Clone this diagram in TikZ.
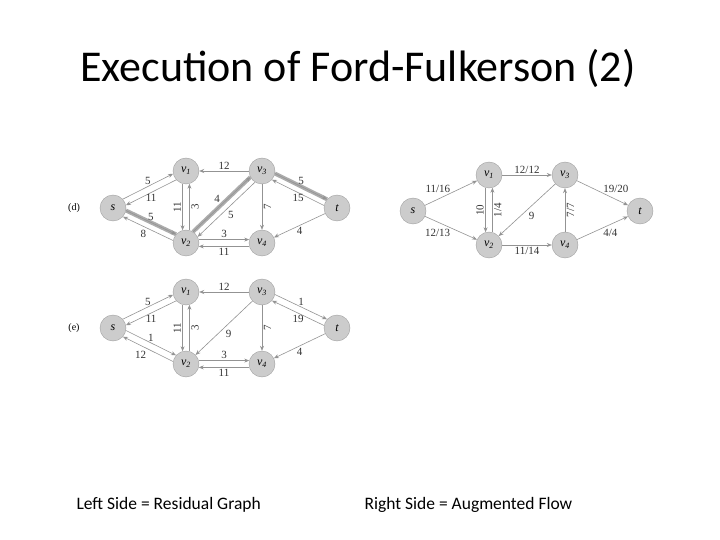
\documentclass[tikz,border=0pt]{standalone}
\usepackage{fontspec}
\setmainfont{Carlito}
\newfontfamily\gfont{Liberation Serif}
\usetikzlibrary{arrows.meta}

\begin{document}
\begin{tikzpicture}[
    x=1pt,y=-1pt,
    vtx/.style = {circle, draw=gray!75, fill=gray!40, minimum size=26pt,
                  inner sep=0pt, font=\gfont\fontsize{12}{14}\selectfont\itshape},
    ed/.style  = {-{Stealth[length=5pt,width=4pt]}, gray!85, line width=0.6pt},
    hl/.style  = {preaction={draw=gray!65, line width=4pt, -}},
    lab/.style = {font=\gfont\fontsize{11}{12}\selectfont, inner sep=1.5pt, text=black!80},
    tag/.style = {font=\gfont\fontsize{10}{12}\selectfont},
  ]
  \useasboundingbox (0,0) rectangle (720,540);

  % -- Titre et légendes ----------------------------------------------------
  \node[font=\fontsize{44}{52}\selectfont,anchor=base] (titre) at (358,82)
       {Execution of Ford-Fulkerson (2)};
  \node[font=\fontsize{17.5}{21}\selectfont,anchor=base west] (gauche) at (73,509)
       {Left Side = Residual Graph};
  \node[font=\fontsize{17.5}{21}\selectfont,anchor=base west] (droite) at (361,509)
       {Right Side = Augmented Flow};

  % -- (d) réseau résiduel --------------------------------------------------
  \node[tag] (dtag) at (74,208) {(d)};
  \node[vtx] (ds)  at (113,208) {s};
  \node[vtx] (dv1) at (186,171) {v\textsubscript{1}};
  \node[vtx] (dv3) at (262,171) {v\textsubscript{3}};
  \node[vtx] (dv2) at (186,243) {v\textsubscript{2}};
  \node[vtx] (dv4) at (262,243) {v\textsubscript{4}};
  \node[vtx] (dt)  at (337,208) {t};

  \draw[ed]    (ds.42)   -- node[lab,above] {5} (dv1.192);
  \draw[ed]    (dv1.222) -- node[lab,below] {11} (ds.12);
  \draw[ed,hl] (ds.-11)  -- node[lab,above] {5} (dv2.139);
  \draw[ed]    (dv2.169) -- node[lab,below left] {8} (ds.-41);
  \draw[ed]    (dv1.255) -- node[lab,rotate=90,anchor=south] {11} (dv2.105);
  \draw[ed]    (dv2.75)  -- node[lab,rotate=90,anchor=north] {3} (dv1.285);
  \draw[ed]    (dv3)     -- node[lab,above] {12} (dv1);
  \draw[ed,hl] (dv2.58)  -- node[lab,above left] {4} (dv3.208);
  \draw[ed]    (dv3.238) -- node[lab,below right] {5} (dv2.28);
  \draw[ed]    (dv2.15)  -- node[lab,above] {3} (dv4.165);
  \draw[ed]    (dv4.195) -- node[lab,below] {11} (dv2.-15);
  \draw[ed]    (dv3)     -- node[lab,rotate=90,anchor=north] {7} (dv4);
  \draw[ed,hl] (dv3.-11) -- node[lab,above] {5} (dt.139);
  \draw[ed]    (dt.169)  -- node[lab,below] {15} (dv3.-41);
  \draw[ed]    (dt)      -- node[lab,below] {4} (dv4);

  % -- (e) réseau résiduel --------------------------------------------------
  \node[tag] (etag) at (74,328) {(e)};
  \node[vtx] (es)  at (113,328) {s};
  \node[vtx] (ev1) at (186,292) {v\textsubscript{1}};
  \node[vtx] (ev3) at (262,292) {v\textsubscript{3}};
  \node[vtx] (ev2) at (186,364) {v\textsubscript{2}};
  \node[vtx] (ev4) at (262,364) {v\textsubscript{4}};
  \node[vtx] (et)  at (337,328) {t};

  \draw[ed] (es.42)   -- node[lab,above] {5} (ev1.192);
  \draw[ed] (ev1.222) -- node[lab,below] {11} (es.12);
  \draw[ed] (es.-11)  -- node[lab,above] {1} (ev2.139);
  \draw[ed] (ev2.169) -- node[lab,below left] {12} (es.-41);
  \draw[ed] (ev1.255) -- node[lab,rotate=90,anchor=south] {11} (ev2.105);
  \draw[ed] (ev2.75)  -- node[lab,rotate=90,anchor=north] {3} (ev1.285);
  \draw[ed] (ev3)     -- node[lab,above] {12} (ev1);
  \draw[ed] (ev3)     -- node[lab,below right] {9} (ev2);
  \draw[ed] (ev2.15)  -- node[lab,above] {3} (ev4.165);
  \draw[ed] (ev4.195) -- node[lab,below] {11} (ev2.-15);
  \draw[ed] (ev3)     -- node[lab,rotate=90,anchor=north] {7} (ev4);
  \draw[ed] (ev3.-11) -- node[lab,above] {1} (et.139);
  \draw[ed] (et.169)  -- node[lab,below] {19} (ev3.-41);
  \draw[ed] (et)      -- node[lab,below] {4} (ev4);

  % -- flot augmenté --------------------------------------------------------
  \node[vtx] (fs)  at (413,211) {s};
  \node[vtx] (fv1) at (489,175) {v\textsubscript{1}};
  \node[vtx] (fv3) at (565,175) {v\textsubscript{3}};
  \node[vtx] (fv2) at (489,245) {v\textsubscript{2}};
  \node[vtx] (fv4) at (565,245) {v\textsubscript{4}};
  \node[vtx] (ft)  at (640,211) {t};

  \draw[ed] (fs)      -- node[lab,above left=-1pt] {11/16} (fv1);
  \draw[ed] (fs)      -- node[lab,below left=-1pt] {12/13} (fv2);
  \draw[ed] (fv1.255) -- node[lab,rotate=90,anchor=south] {10} (fv2.105);
  \draw[ed] (fv2.75)  -- node[lab,rotate=90,anchor=north] {1/4} (fv1.285);
  \draw[ed] (fv1)     -- node[lab,above] {12/12} (fv3);
  \draw[ed] (fv3)     -- node[lab,below right] {9} (fv2);
  \draw[ed] (fv2)     -- node[lab,below] {11/14} (fv4);
  \draw[ed] (fv4)     -- node[lab,rotate=90,anchor=north] {7/7} (fv3);
  \draw[ed] (fv3)     -- node[lab,above right=-1pt] {19/20} (ft);
  \draw[ed] (fv4)     -- node[lab,below right=-1pt] {4/4} (ft);

\end{tikzpicture}
\end{document}
